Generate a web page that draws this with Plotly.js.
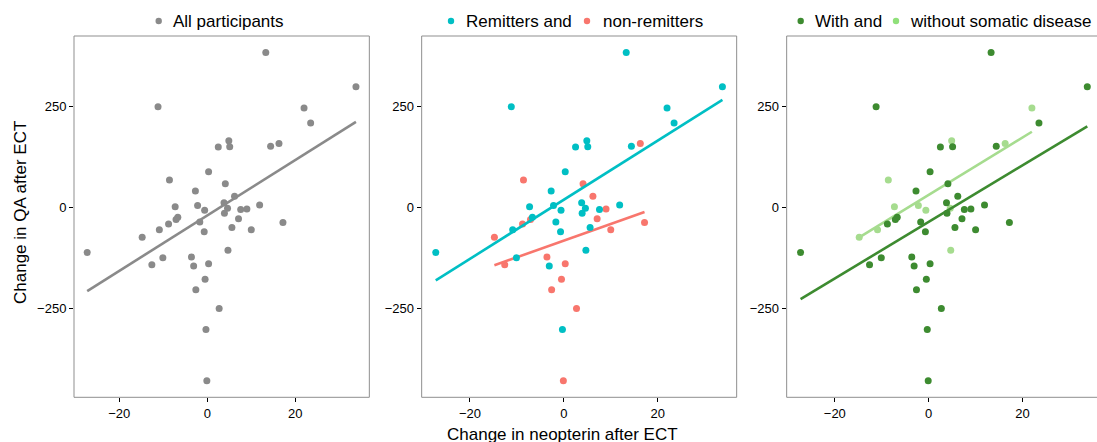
<!DOCTYPE html>
<html>
<head>
<meta charset="utf-8">
<script src="https://cdn.plot.ly/plotly-3.0.1.min.js"></script>
<style>html,body{margin:0;padding:0;background:#fff;}#chart{width:1097px;height:442px;}</style>
</head>
<body>
<div id="chart"></div>
<script>
// Change in neopterin after ECT (x) and change in QA after ECT (y), one entry per participant
const neopterinChange = [13.3, 33.8, -11.2, 22.0, 23.5, 4.9, 2.5, 5.1, 14.4, 16.3,
  0.3, -8.6, 4.1, -2.7, 6.2, -7.3, -2.2, 3.8, 11.9, -0.6,
  4.6, 7.6, 9.0, 3.9, -6.7, -7.1, -1.7, 7.1, 17.2, -8.8,
  -10.9, -0.7, 5.6, 10.0, -14.8, -27.3, 4.7, -3.6, -10.1, -12.6,
  -3.1, 0.3, -0.5, -2.6, 2.7, -0.3, -0.1];
const qaChange = [385, 300, 250, 247, 210, 166, 150, 151, 152, 159,
  89, 68, 59, 41, 28, 2, 5, 12, 6, -7,
  -2, -5, -4, -14, -24, -30, -36, -28, -37, -41,
  -55, -60, -50, -55, -74, -112, -106, -123, -125, -142,
  -145, -140, -178, -204, -251, -303, -430];
// 1 = remitter, 0 = non-remitter
const remitter = [1,1,1,1,1,1,1,1,1,0,
  1,0,0,1,0,1,1,1,1,1,
  1,1,0,1,1,0,1,0,0,0,
  1,1,1,0,0,1,1,0,1,0,
  1,0,0,0,0,1,0];
// 1 = with somatic disease, 0 = without
const somatic = [1,1,1,0,1,0,1,1,1,0,
  1,0,1,1,1,0,0,1,1,0,
  0,1,1,1,1,1,1,1,1,1,
  0,1,1,1,0,1,0,1,1,1,
  1,1,1,1,1,1,1];

const xTicks = [-20, 0, 20];
const yTicks = [-250, 0, 250];
const panelLegends = [
  ["All participants"],
  ["Remitters and", "non-remitters"],
  ["With and", "without somatic disease"]
];
const xTitle = "Change in neopterin after ECT";
const yTitle = "Change in QA after ECT";

const C = {
  gray: "#8a8a8a", cyan: "#00BFC4", red: "#F8766D",
  dark: "#3d8b30", light: "#a6dc8f", lightKey: "#90e07a", frame: "#8f8f8f"
};
const FONT = "Liberation Sans, Arial, Helvetica, sans-serif";
const W = 1097, H = 442;

function subset(flagArr, val) {
  const xs = [], ys = [];
  for (let i = 0; i < neopterinChange.length; i++) {
    if (flagArr === null || flagArr[i] === val) { xs.push(neopterinChange[i]); ys.push(qaChange[i]); }
  }
  return {x: xs, y: ys};
}
function fit(d) {
  const n = d.x.length;
  const mx = d.x.reduce((a, b) => a + b, 0) / n;
  const my = d.y.reduce((a, b) => a + b, 0) / n;
  let sxy = 0, sxx = 0;
  for (let i = 0; i < n; i++) { sxy += (d.x[i] - mx) * (d.y[i] - my); sxx += (d.x[i] - mx) ** 2; }
  const b = sxy / sxx, a = my - b * mx;
  const x0 = Math.min(...d.x), x1 = Math.max(...d.x);
  return {x: [x0, x1], y: [a + b * x0, a + b * x1]};
}

const traces = [];
function addGroup(d, color, ax) {
  traces.push({type: "scatter", mode: "markers", x: d.x, y: d.y, xaxis: "x" + ax, yaxis: "y" + ax,
    marker: {color: color, size: 7, line: {width: 0}}, showlegend: false, hoverinfo: "skip"});
  const f = fit(d);
  traces.push({type: "scatter", mode: "lines", x: f.x, y: f.y, xaxis: "x" + ax, yaxis: "y" + ax,
    line: {color: color, width: 2.6}, showlegend: false, hoverinfo: "skip"});
}
addGroup(subset(null), C.gray, "");
addGroup(subset(remitter, 0), C.red, "2");
addGroup(subset(remitter, 1), C.cyan, "2");
addGroup(subset(somatic, 0), C.light, "3");
addGroup(subset(somatic, 1), C.dark, "3");

const yDom = [1 - 397.3 / H, 1 - 36 / H];
const yRange = [-471.3, 425.8];
const px = v => v / W, py = v => 1 - v / H;
const panels = [
  {x0: 74.0, x1: 369.33, range: [-30.3, 36.84]},
  {x0: 421.67, x1: 736.67, range: [-30.3, 36.84]},
  {x0: 786.67, x1: 1097, range: [-30.26, 35.87]}
];
function xAxis(p, anchor) {
  return {domain: [px(p.x0), px(p.x1)], range: p.range, anchor: anchor, tickvals: xTicks,
    ticks: "outside", ticklen: 4, tickwidth: 1, tickcolor: "#000", showgrid: false, zeroline: false,
    showline: false, tickfont: {family: FONT, size: 13, color: "#000"}};
}
function yAxis(anchor) {
  return {domain: yDom, range: yRange, anchor: anchor, tickvals: yTicks,
    ticks: "outside", ticklen: 4, tickwidth: 1, tickcolor: "#000", showgrid: false, zeroline: false,
    showline: false, tickfont: {family: FONT, size: 13, color: "#000"}};
}

const shapes = [];
panels.forEach((p, i) => {
  const xr = i === 2 ? 1.01 : px(p.x1);
  shapes.push({type: "rect", xref: "paper", yref: "paper", x0: px(p.x0), x1: xr, y0: yDom[0], y1: yDom[1],
    line: {color: C.frame, width: 1}, fillcolor: "rgba(0,0,0,0)"});
});

// legend keys (marker centre x, text start x)
const keys = [
  {cx: 158.7, tx: 171, color: C.gray, text: panelLegends[0][0]},
  {cx: 451, tx: 464, color: C.cyan, text: panelLegends[1][0]},
  {cx: 587, tx: 601, color: C.red, text: panelLegends[1][1]},
  {cx: 800.7, tx: 813.3, color: C.dark, text: panelLegends[2][0]},
  {cx: 896, tx: 907.7, color: C.lightKey, text: panelLegends[2][1]}
];
const annotations = [];
const keyY = 21;
keys.forEach(k => {
  shapes.push({type: "circle", xref: "paper", yref: "paper",
    x0: px(k.cx - 3.2), x1: px(k.cx + 3.2), y0: py(keyY + 3.2), y1: py(keyY - 3.2),
    line: {width: 0}, fillcolor: k.color});
  annotations.push({xref: "paper", yref: "paper", x: px(k.tx), y: py(keyY), xanchor: "left", yanchor: "middle",
    text: k.text, showarrow: false, font: {family: FONT, size: 17, color: "#000"}});
});
annotations.push({xref: "paper", yref: "paper", x: px(562), y: py(423), xanchor: "center", yanchor: "top",
  text: xTitle, showarrow: false, font: {family: FONT, size: 17, color: "#000"}});
annotations.push({xref: "paper", yref: "paper", x: px(20), y: py(213), xanchor: "center", yanchor: "middle",
  textangle: -90, text: yTitle, showarrow: false, font: {family: FONT, size: 17, color: "#000"}});

const layout = {
  width: W, height: H, margin: {l: 0, r: 0, t: 0, b: 0, autoexpand: false},
  paper_bgcolor: "#fff", plot_bgcolor: "#fff", showlegend: false,
  xaxis: xAxis(panels[0], "y"), yaxis: yAxis("x"),
  xaxis2: xAxis(panels[1], "y2"), yaxis2: yAxis("x2"),
  xaxis3: xAxis(panels[2], "y3"), yaxis3: yAxis("x3"),
  shapes: shapes, annotations: annotations
};
Plotly.newPlot("chart", traces, layout, {displayModeBar: false, staticPlot: true});
</script>
</body>
</html>
